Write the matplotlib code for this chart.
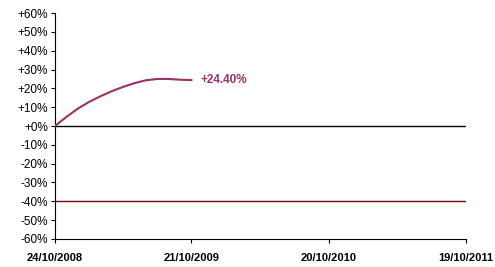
import matplotlib
matplotlib.use("Agg")
import matplotlib.pyplot as plt
import pandas as pd

plt.rcParams['font.family'] = ['Liberation Sans', 'DejaVu Sans']

# performance curve (monthly steps from start date), in %
perf_dates = pd.date_range("2008-10-24", "2009-10-21", periods=13)
perf_values = [0.0, 4.8, 9.2, 12.8, 15.8, 18.5, 20.8, 22.8, 24.3, 25.0, 25.0, 24.6, 24.4]

tick_dates = pd.to_datetime(["2008-10-24", "2009-10-21", "2010-10-20", "2011-10-19"])
tick_labels = ["24/10/2008", "21/10/2009", "20/10/2010", "19/10/2011"]
y_ticks = [-60, -50, -40, -30, -20, -10, 0, 10, 20, 30, 40, 50, 60]
barrier = -40
final_label = "+24.40%"

fig = plt.figure(figsize=(4.95, 2.67), dpi=100)
ax = fig.add_axes([0.111, 0.105, 0.830, 0.846])

ax.axhline(0, color='black', lw=1.0, zorder=2)
ax.plot([tick_dates[0], tick_dates[-1]], [barrier, barrier], color='#800000', lw=1.0, zorder=2)
ax.plot(perf_dates, perf_values, color='#993366', lw=1.5, zorder=3, solid_joinstyle='round')
ax.text(perf_dates[-1] + pd.Timedelta(days=24), perf_values[-1], final_label,
        color='#993366', fontsize=8.5, fontweight='bold', va='center', ha='left')

ax.set_xlim(tick_dates[0], tick_dates[-1])
ax.set_ylim(-60, 60)
ax.set_xticks(tick_dates)
ax.set_xticklabels(tick_labels, fontsize=8, fontweight='bold')
ax.set_yticks(y_ticks)
ax.set_yticklabels([f"{v:+d}%" if v != 0 else "+0%" for v in y_ticks], fontsize=8.5)
ax.tick_params(axis='both', direction='out', length=3, width=0.8, pad=2)
ax.tick_params(axis='x', pad=7)

for s in ['top', 'right']:
    ax.spines[s].set_visible(False)
for s in ['left', 'bottom']:
    ax.spines[s].set_linewidth(0.8)

fig.savefig("out.png", dpi=100)
